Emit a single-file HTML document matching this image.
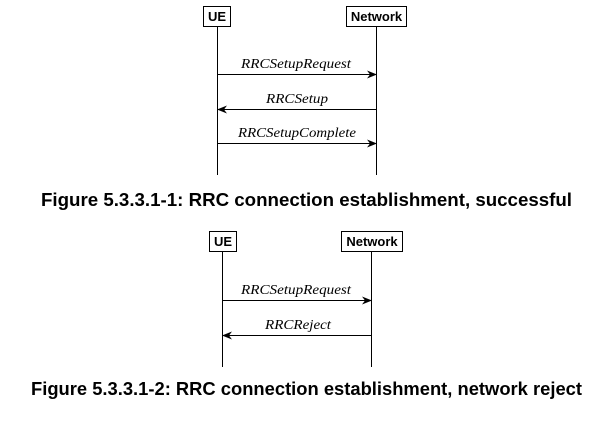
<!DOCTYPE html>
<html><head><meta charset="utf-8"><style>
body{margin:0;background:#fff;width:613px;height:433px;overflow:hidden}
svg{display:block}
.b{font-family:"Liberation Sans",sans-serif;font-weight:bold;font-size:13px}
.m{font-family:"Liberation Serif",serif;font-style:italic;font-size:14px}
.c{font-family:"Liberation Sans",sans-serif;font-weight:bold;font-size:18px}
</style></head><body>
<svg width="613" height="433" viewBox="0 0 613 433">
<defs><marker id="a" markerWidth="10" markerHeight="8" refX="9" refY="4" orient="auto" markerUnits="userSpaceOnUse"><path d="M0,0 L10,4 L0,8 L3,4 Z" fill="#000"/></marker></defs>
<g stroke="#000" fill="none" stroke-width="1">
<rect x="203.5" y="6.5" width="27" height="20"/>
<rect x="346.5" y="6.5" width="60" height="20"/>
<line x1="217.5" y1="26" x2="217.5" y2="175"/>
<line x1="376.5" y1="26" x2="376.5" y2="175"/>
<line x1="217.5" y1="74.5" x2="376" y2="74.5" marker-end="url(#a)"/>
<line x1="376.5" y1="109.5" x2="218" y2="109.5" marker-end="url(#a)"/>
<line x1="217.5" y1="143.5" x2="376" y2="143.5" marker-end="url(#a)"/>
<rect x="209.5" y="231.5" width="27" height="20"/>
<rect x="341.5" y="231.5" width="61" height="20"/>
<line x1="222.5" y1="251" x2="222.5" y2="367"/>
<line x1="371.5" y1="251" x2="371.5" y2="367"/>
<line x1="222.5" y1="300.5" x2="371" y2="300.5" marker-end="url(#a)"/>
<line x1="371.5" y1="335.5" x2="223" y2="335.5" marker-end="url(#a)"/>
</g>
<text class="b" x="217" y="21" text-anchor="middle">UE</text>
<text class="b" x="376.5" y="21" text-anchor="middle">Network</text>
<text class="m" x="241" y="68" textLength="110" lengthAdjust="spacingAndGlyphs">RRCSetupRequest</text>
<text class="m" x="266" y="103" textLength="62" lengthAdjust="spacingAndGlyphs">RRCSetup</text>
<text class="m" x="238" y="137" textLength="118" lengthAdjust="spacingAndGlyphs">RRCSetupComplete</text>
<text class="c" x="41" y="206" textLength="531" lengthAdjust="spacingAndGlyphs">Figure 5.3.3.1-1: RRC connection establishment, successful</text>
<text class="b" x="223" y="246" text-anchor="middle">UE</text>
<text class="b" x="372" y="246" text-anchor="middle">Network</text>
<text class="m" x="241" y="294" textLength="110" lengthAdjust="spacingAndGlyphs">RRCSetupRequest</text>
<text class="m" x="265" y="329" textLength="66" lengthAdjust="spacingAndGlyphs">RRCReject</text>
<text class="c" x="31" y="395" textLength="551" lengthAdjust="spacingAndGlyphs">Figure 5.3.3.1-2: RRC connection establishment, network reject</text>
</svg>
</body></html>
